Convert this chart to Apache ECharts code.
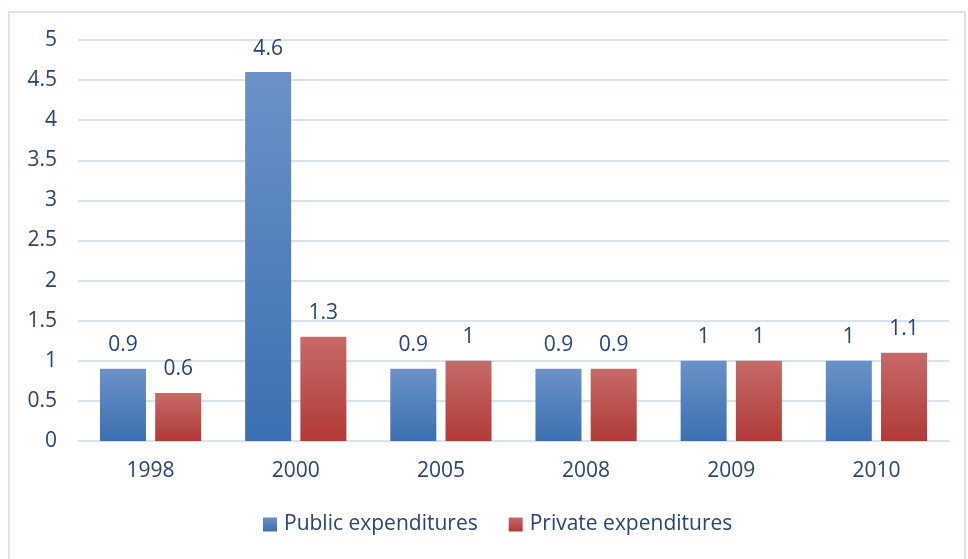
<!DOCTYPE html>
<html><head><meta charset="utf-8">
<script src="https://cdn.jsdelivr.net/npm/echarts@6/dist/echarts.min.js"></script>
<style>html,body{margin:0;padding:0;background:#fff}#c{width:968px;height:559px}
#frame{position:absolute;left:8px;top:11px;width:958px;height:560px;border:2px solid #d9e2f1;box-sizing:border-box;pointer-events:none}</style>
</head><body><div id="c"></div><div id="frame"></div>
<script>
const categories = ['1998','2000','2005','2008','2009','2010'];
const publicExp = [0.9, 4.6, 0.9, 0.9, 1, 1];
const privateExp = [0.6, 1.3, 1, 0.9, 1, 1.1];
const seriesNames = ['Public expenditures','Private expenditures'];
const txt = '#264478';
const font = 'Open Sans';
function grad(a,b){return new echarts.graphic.LinearGradient(0,0,0,1,[{offset:0,color:a},{offset:1,color:b}]);}
const chart = echarts.init(document.getElementById('c'));
const lbl = {show:true,position:'top',distance:13,color:txt,fontSize:21,fontFamily:font};
chart.setOption({
  animation:false,
  grid:{left:78,right:19,top:40,bottom:118},
  legend:{bottom:19,left:258,itemWidth:14,itemHeight:14,itemGap:31,icon:'rect',
    textStyle:{color:txt,fontSize:21,fontFamily:font,padding:[0,0,0,2]},data:seriesNames},
  xAxis:{type:'category',data:categories,axisLine:{lineStyle:{color:'#d9e2f3',width:2}},axisTick:{show:false},
    axisLabel:{color:txt,fontSize:21,fontFamily:font,margin:20}},
  yAxis:{type:'value',min:0,max:5,interval:0.5,axisLine:{show:false},axisTick:{show:false},
    splitLine:{lineStyle:{color:'#d9e2f3',width:2}},
    axisLabel:{color:txt,fontSize:21,fontFamily:font,margin:21}},
  series:[
    {name:seriesNames[0],type:'bar',data:publicExp,barWidth:'31.7%',barGap:'20%',
     itemStyle:{color:grad('#6a92c8','#3c6fb2')},label:lbl},
    {name:seriesNames[1],type:'bar',data:privateExp,barWidth:'31.7%',
     itemStyle:{color:grad('#c66a68','#b13a37')},label:lbl}
  ]
});
</script></body></html>
